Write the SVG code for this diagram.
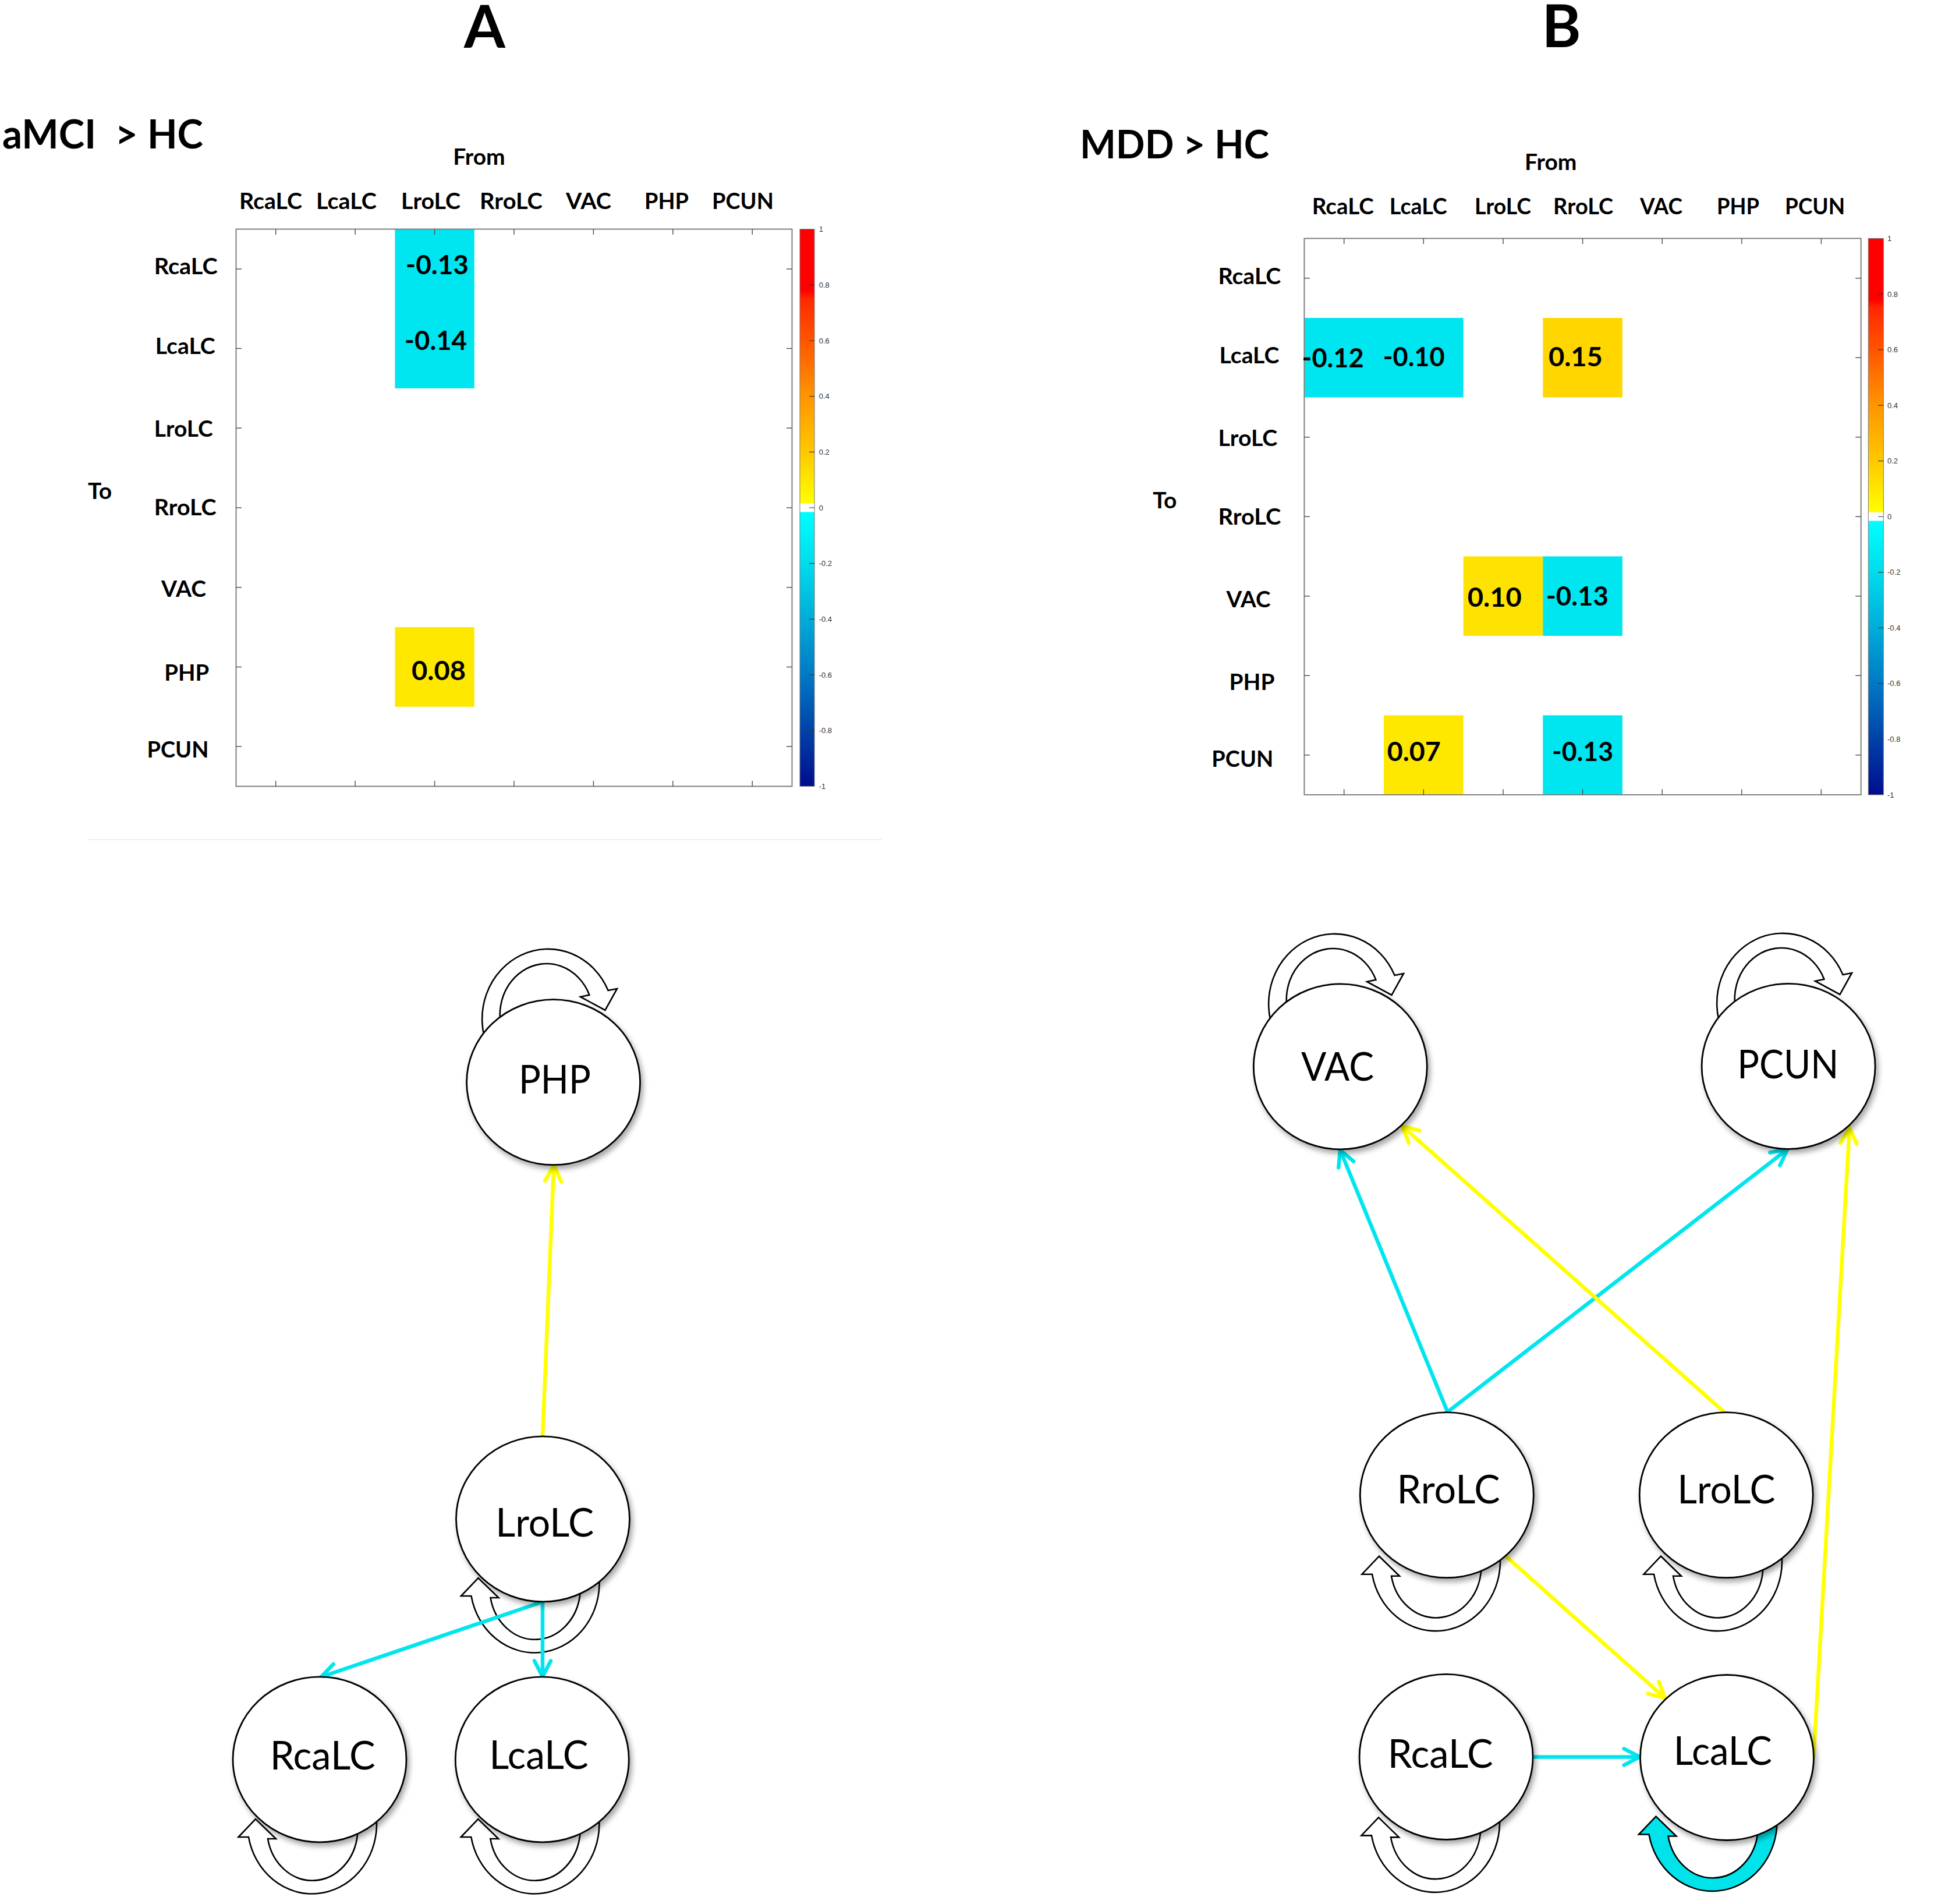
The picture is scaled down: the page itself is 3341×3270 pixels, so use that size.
<svg xmlns="http://www.w3.org/2000/svg" xmlns:xlink="http://www.w3.org/1999/xlink" width="3341" height="3270" viewBox="0 0 3341 3270">
<defs>
<style>
.b{font-family:Lato,"Liberation Sans",sans-serif;font-weight:700;fill:#000}
.lab{font-size:38px;text-anchor:middle}
.val{font-size:46px;text-anchor:middle}
.nl{font-family:Lato,"Liberation Sans",sans-serif;font-weight:400;font-size:68px;text-anchor:middle;fill:#000}
.cb{font-family:"Liberation Sans",Arial,sans-serif;font-size:13px;fill:#333}
.box{fill:none;stroke:#808080;stroke-width:2}
.tk{stroke:#555;stroke-width:1.5}
.cbt{stroke:#333;stroke-width:1.2}
.node ellipse{fill:#fff;stroke:#000;stroke-width:2.8;filter:url(#sh)}
.loop{stroke:#000;stroke-width:2.6;stroke-linejoin:miter}
.ec{fill:none;stroke:#00E5EE;stroke-width:6.5;marker-end:url(#ahC)}
.ey{fill:none;stroke:#FFFF00;stroke-width:6.5;marker-end:url(#ahY)}
</style>
<filter id="sh" x="-20%" y="-20%" width="150%" height="150%">
<feDropShadow dx="4" dy="6" stdDeviation="5" flood-color="#000" flood-opacity="0.35"/>
</filter>
<linearGradient id="gUp" x1="0" y1="0" x2="0" y2="1">
<stop offset="0" stop-color="#FF0000"/>
<stop offset="0.223" stop-color="#FF0000"/>
<stop offset="0.254" stop-color="#FF2800"/>
<stop offset="0.406" stop-color="#FF5500"/>
<stop offset="0.609" stop-color="#FF9500"/>
<stop offset="0.812" stop-color="#FFC800"/>
<stop offset="1" stop-color="#FFFF00"/>
</linearGradient>
<linearGradient id="gDn" x1="0" y1="0" x2="0" y2="1">
<stop offset="0" stop-color="#00FFFF"/>
<stop offset="0.188" stop-color="#00DCEC"/>
<stop offset="0.391" stop-color="#00ACD9"/>
<stop offset="0.594" stop-color="#0079C4"/>
<stop offset="0.797" stop-color="#0042A8"/>
<stop offset="1" stop-color="#000C8F"/>
</linearGradient>
<marker id="ahC" markerUnits="userSpaceOnUse" markerWidth="44" markerHeight="44" viewBox="-34 -22 44 44" refX="0" refY="0" orient="auto">
<path d="M-27,-14 L0,0 L-27,14" fill="none" stroke="#00E5EE" stroke-width="6.5" stroke-linecap="round" stroke-linejoin="round"/>
</marker>
<marker id="ahY" markerUnits="userSpaceOnUse" markerWidth="44" markerHeight="44" viewBox="-34 -22 44 44" refX="0" refY="0" orient="auto">
<path d="M-27,-14 L0,0 L-27,14" fill="none" stroke="#FFFF00" stroke-width="6.5" stroke-linecap="round" stroke-linejoin="round"/>
</marker>
<path id="loopTop" d="M -99,58 A 113 120 0 1 1 107.6,-40 L 123,-43 L 102.5,-6 L 60,-29 L 75.4,-32.3 A 80 88 0 1 0 -60,58 Z"/>
<path id="loopBot" d="M -110,11 A 111 120 0 0 0 110,-9 L 110,-42 L 77,-42 L 77,7 A 78 89 0 0 1 -77,14 L -63,14 L -98,-20 L -127.5,11 Z"/>
</defs>

<rect x="0" y="0" width="3341" height="3270" fill="#fff"/>

<!-- ================= Panel A matrix ================= -->
<g id="panelA-matrix">
<text class="b" x="832.5" y="82" font-size="102" text-anchor="middle">A</text>
<text class="b" x="4" y="255" font-size="68" style="white-space:pre" textLength="345" lengthAdjust="spacingAndGlyphs">aMCI  &gt; HC</text>
<text class="b" x="823" y="283" font-size="39" text-anchor="middle">From</text>
<text class="b" x="171.6" y="856.8" font-size="39" text-anchor="middle">To</text>
<g class="b lab">
<text x="465" y="359" textLength="108" lengthAdjust="spacingAndGlyphs">RcaLC</text>
<text x="595" y="359" textLength="104" lengthAdjust="spacingAndGlyphs">LcaLC</text>
<text x="740" y="359" textLength="102" lengthAdjust="spacingAndGlyphs">LroLC</text>
<text x="878" y="359" textLength="108" lengthAdjust="spacingAndGlyphs">RroLC</text>
<text x="1011" y="359" textLength="78" lengthAdjust="spacingAndGlyphs">VAC</text>
<text x="1145" y="359" textLength="76" lengthAdjust="spacingAndGlyphs">PHP</text>
<text x="1276" y="359" textLength="106" lengthAdjust="spacingAndGlyphs">PCUN</text>
<text x="319.2" y="470.7" textLength="109" lengthAdjust="spacingAndGlyphs">RcaLC</text>
<text x="318.2" y="607.6" textLength="103" lengthAdjust="spacingAndGlyphs">LcaLC</text>
<text x="315.2" y="750.1" textLength="101" lengthAdjust="spacingAndGlyphs">LroLC</text>
<text x="318.2" y="884.9" textLength="107" lengthAdjust="spacingAndGlyphs">RroLC</text>
<text x="315.6" y="1025.3" textLength="77" lengthAdjust="spacingAndGlyphs">VAC</text>
<text x="320.7" y="1168.5" textLength="77" lengthAdjust="spacingAndGlyphs">PHP</text>
<text x="305.4" y="1300.5" textLength="106" lengthAdjust="spacingAndGlyphs">PCUN</text>
</g>
<rect x="405.5" y="393.5" width="955" height="957" fill="#fff"/>
<rect x="678.4" y="393.5" width="136.4" height="273.4" fill="#00E6F0"/>
<rect x="678.4" y="1077.1" width="136.4" height="136.7" fill="#FFE800"/>
<rect class="box" x="405.5" y="393.5" width="955" height="957"/>
<g class="tk">
<path d="M473.7,393.5v9.5M610.1,393.5v9.5M746.6,393.5v9.5M883,393.5v9.5M1019.4,393.5v9.5M1155.9,393.5v9.5M1292.3,393.5v9.5"/>
<path d="M473.7,1350.5v-9.5M610.1,1350.5v-9.5M746.6,1350.5v-9.5M883,1350.5v-9.5M1019.4,1350.5v-9.5M1155.9,1350.5v-9.5M1292.3,1350.5v-9.5"/>
<path d="M405.5,461.9h9.5M405.5,598.6h9.5M405.5,735.3h9.5M405.5,872h9.5M405.5,1008.7h9.5M405.5,1145.4h9.5M405.5,1282.1h9.5"/>
<path d="M1360.5,461.9h-9.5M1360.5,598.6h-9.5M1360.5,735.3h-9.5M1360.5,872h-9.5M1360.5,1008.7h-9.5M1360.5,1145.4h-9.5M1360.5,1282.1h-9.5"/>
</g>
<g class="b val">
<text x="751" y="470.7" textLength="108" lengthAdjust="spacingAndGlyphs">-0.13</text>
<text x="748.5" y="601.3" textLength="107" lengthAdjust="spacingAndGlyphs">-0.14</text>
<text x="753.5" y="1167.8" textLength="93" lengthAdjust="spacingAndGlyphs">0.08</text>
</g>
<!-- colorbar A -->
<rect x="1374" y="393.6" width="25" height="471" fill="url(#gUp)"/>
<rect x="1374" y="879.4" width="25" height="471" fill="url(#gDn)"/>
<rect x="1374" y="393.6" width="25" height="956.8" fill="none" stroke="#777" stroke-width="1"/>
<g class="cbt">
<path d="M1390,489.3h9M1390,585h9M1390,680.6h9M1390,776.3h9M1390,872h9M1390,967.7h9M1390,1063.4h9M1390,1159h9M1390,1254.7h9"/>
</g>
<g class="cb">
<text x="1406.7" y="398.1">1</text>
<text x="1406.7" y="493.8">0.8</text>
<text x="1406.7" y="589.5">0.6</text>
<text x="1406.7" y="685.1">0.4</text>
<text x="1406.7" y="780.8">0.2</text>
<text x="1406.7" y="876.5">0</text>
<text x="1406.7" y="972.2">-0.2</text>
<text x="1406.7" y="1067.9">-0.4</text>
<text x="1406.7" y="1163.5">-0.6</text>
<text x="1406.7" y="1259.2">-0.8</text>
<text x="1406.7" y="1354.9">-1</text>
</g>
<line x1="150" y1="1442" x2="1515" y2="1442" stroke="#f0f0f0" stroke-width="2"/>
</g>

<!-- ================= Panel B matrix ================= -->
<g id="panelB-matrix">
<text class="b" x="2682" y="81" font-size="102" text-anchor="middle">B</text>
<text class="b" x="1855" y="271.7" font-size="67" textLength="325" lengthAdjust="spacingAndGlyphs">MDD &gt; HC</text>
<text class="b" x="2663.7" y="291.7" font-size="39" text-anchor="middle">From</text>
<text class="b" x="2000.8" y="873" font-size="39" text-anchor="middle">To</text>
<g class="b lab">
<text x="2306.8" y="368.3" textLength="106" lengthAdjust="spacingAndGlyphs">RcaLC</text>
<text x="2436.3" y="368.3" textLength="99" lengthAdjust="spacingAndGlyphs">LcaLC</text>
<text x="2581.5" y="368.3" textLength="97" lengthAdjust="spacingAndGlyphs">LroLC</text>
<text x="2719.6" y="368.3" textLength="103" lengthAdjust="spacingAndGlyphs">RroLC</text>
<text x="2853.5" y="368.3" textLength="73" lengthAdjust="spacingAndGlyphs">VAC</text>
<text x="2985.6" y="368.3" textLength="73" lengthAdjust="spacingAndGlyphs">PHP</text>
<text x="3117.6" y="368.3" textLength="103" lengthAdjust="spacingAndGlyphs">PCUN</text>
<text x="2146.4" y="488.3" textLength="108" lengthAdjust="spacingAndGlyphs">RcaLC</text>
<text x="2145.9" y="623.8" textLength="103" lengthAdjust="spacingAndGlyphs">LcaLC</text>
<text x="2143.4" y="766.3" textLength="102" lengthAdjust="spacingAndGlyphs">LroLC</text>
<text x="2146.4" y="901" textLength="108" lengthAdjust="spacingAndGlyphs">RroLC</text>
<text x="2144.5" y="1042.9" textLength="76" lengthAdjust="spacingAndGlyphs">VAC</text>
<text x="2150.5" y="1185.4" textLength="78" lengthAdjust="spacingAndGlyphs">PHP</text>
<text x="2134.3" y="1317.4" textLength="106" lengthAdjust="spacingAndGlyphs">PCUN</text>
</g>
<rect x="2240.4" y="409.5" width="956.3" height="955.5" fill="#fff"/>
<rect x="2240.4" y="546" width="273.3" height="136.5" fill="#00E6F0"/>
<rect x="2650.3" y="546" width="136.6" height="136.5" fill="#FFD600"/>
<rect x="2513.7" y="955.5" width="136.6" height="136.5" fill="#FFE300"/>
<rect x="2650.3" y="955.5" width="136.6" height="136.5" fill="#00E6F0"/>
<rect x="2377" y="1228.5" width="136.7" height="136.5" fill="#FFE800"/>
<rect x="2650.3" y="1228.5" width="136.6" height="136.5" fill="#00E6F0"/>
<rect class="box" x="2240.4" y="409.5" width="956.3" height="955.5"/>
<g class="tk">
<path d="M2308.7,409.5v9.5M2445.3,409.5v9.5M2582,409.5v9.5M2718.6,409.5v9.5M2855.2,409.5v9.5M2991.8,409.5v9.5M3128.4,409.5v9.5"/>
<path d="M2308.7,1365v-9.5M2445.3,1365v-9.5M2582,1365v-9.5M2718.6,1365v-9.5M2855.2,1365v-9.5M2991.8,1365v-9.5M3128.4,1365v-9.5"/>
<path d="M2240.4,477.8h9.5M2240.4,614.3h9.5M2240.4,750.8h9.5M2240.4,887.3h9.5M2240.4,1023.8h9.5M2240.4,1160.3h9.5M2240.4,1296.8h9.5"/>
<path d="M3196.7,477.8h-9.5M3196.7,614.3h-9.5M3196.7,750.8h-9.5M3196.7,887.3h-9.5M3196.7,1023.8h-9.5M3196.7,1160.3h-9.5M3196.7,1296.8h-9.5"/>
</g>
<g class="b val">
<text x="2289.6" y="630.8" textLength="106" lengthAdjust="spacingAndGlyphs">-0.12</text>
<text x="2428.7" y="628.7" textLength="106" lengthAdjust="spacingAndGlyphs">-0.10</text>
<text x="2706.4" y="628.7" textLength="93" lengthAdjust="spacingAndGlyphs">0.15</text>
<text x="2567.3" y="1041.5" textLength="93" lengthAdjust="spacingAndGlyphs">0.10</text>
<text x="2709.4" y="1040" textLength="107" lengthAdjust="spacingAndGlyphs">-0.13</text>
<text x="2428.7" y="1306.8" textLength="92" lengthAdjust="spacingAndGlyphs">0.07</text>
<text x="2718.6" y="1306.8" textLength="105" lengthAdjust="spacingAndGlyphs">-0.13</text>
</g>
<!-- colorbar B -->
<rect x="3209.3" y="409.5" width="26" height="470.5" fill="url(#gUp)"/>
<rect x="3209.3" y="894.5" width="26" height="470.5" fill="url(#gDn)"/>
<rect x="3209.3" y="409.5" width="26" height="955.5" fill="none" stroke="#777" stroke-width="1"/>
<g class="cbt">
<path d="M3226,505h9.3M3226,600.6h9.3M3226,696.2h9.3M3226,791.7h9.3M3226,887.25h9.3M3226,982.8h9.3M3226,1078.35h9.3M3226,1173.9h9.3M3226,1269.45h9.3"/>
</g>
<g class="cb">
<text x="3242" y="414">1</text>
<text x="3242" y="509.5">0.8</text>
<text x="3242" y="605.1">0.6</text>
<text x="3242" y="700.7">0.4</text>
<text x="3242" y="796.2">0.2</text>
<text x="3242" y="891.75">0</text>
<text x="3242" y="987.3">-0.2</text>
<text x="3242" y="1082.85">-0.4</text>
<text x="3242" y="1178.4">-0.6</text>
<text x="3242" y="1273.95">-0.8</text>
<text x="3242" y="1369.5">-1</text>
</g>
</g>

<!-- ================= Connectors ================= -->
<g id="connectors">
<!-- self loops -->
<use xlink:href="#loopTop" href="#loopTop" x="937" y="1741" class="loop" fill="#fff"/>
<use xlink:href="#loopBot" href="#loopBot" x="919.5" y="2730" class="loop" fill="#fff"/>
<use xlink:href="#loopBot" href="#loopBot" x="537" y="3144" class="loop" fill="#fff"/>
<use xlink:href="#loopBot" href="#loopBot" x="919.3" y="3144" class="loop" fill="#fff"/>
<use xlink:href="#loopTop" href="#loopTop" x="2288" y="1715" class="loop" fill="#fff"/>
<use xlink:href="#loopTop" href="#loopTop" x="3058" y="1714" class="loop" fill="#fff"/>
<use xlink:href="#loopBot" href="#loopBot" x="2467" y="2692.7" class="loop" fill="#fff"/>
<use xlink:href="#loopBot" href="#loopBot" x="2951" y="2692.7" class="loop" fill="#fff"/>
<use xlink:href="#loopBot" href="#loopBot" x="2466" y="3141.4" class="loop" fill="#fff"/>
<use xlink:href="#loopBot" href="#loopBot" x="2942.5" y="3139.5" class="loop" fill="#00E3EA"/>
<!-- A edges -->
<path class="ec" d="M932,2751 L551.6,2880"/>
<path class="ec" d="M932,2751 L932,2879.5"/>
<path class="ey" d="M932,2467 L951.3,2001.5"/>
<!-- B edges -->
<path class="ec" d="M2486.5,2425 L2302,1975"/>
<path class="ec" d="M2486.5,2425 L3070.2,1974"/>
<path class="ey" d="M2961.6,2425 L2408.9,1934.2"/>
<path class="ey" d="M2582.9,2669.3 L2860.2,2916.4"/>
<path class="ec" d="M2634.6,3017.4 L2816.7,3017.4"/>
<path class="ey" d="M3115.3,3019.1 L3177,1937"/>
</g>

<!-- ================= Nodes A ================= -->
<g id="nodeA-PHP" class="node"><ellipse cx="950.6" cy="1858.7" rx="149" ry="142"/><text class="nl" x="952.9" y="1878.2" textLength="124" lengthAdjust="spacingAndGlyphs">PHP</text></g>
<g id="nodeA-LroLC" class="node"><ellipse cx="932.5" cy="2608.8" rx="149" ry="142"/><text class="nl" x="935.7" y="2638.8" textLength="169" lengthAdjust="spacingAndGlyphs">LroLC</text></g>
<g id="nodeA-RcaLC" class="node"><ellipse cx="549" cy="3021.9" rx="149" ry="142"/><text class="nl" x="554.2" y="3038.5" textLength="181" lengthAdjust="spacingAndGlyphs">RcaLC</text></g>
<g id="nodeA-LcaLC" class="node"><ellipse cx="931.3" cy="3021.9" rx="149" ry="142"/><text class="nl" x="925.5" y="3037.6" textLength="170" lengthAdjust="spacingAndGlyphs">LcaLC</text></g>

<!-- ================= Nodes B ================= -->
<g id="nodeB-VAC" class="node"><ellipse cx="2302.3" cy="1831.9" rx="149" ry="142"/><text class="nl" x="2297.6" y="1856.3" textLength="125" lengthAdjust="spacingAndGlyphs">VAC</text></g>
<g id="nodeB-PCUN" class="node"><ellipse cx="3072.1" cy="1831.3" rx="149" ry="142"/><text class="nl" x="3071.3" y="1851.9" textLength="174" lengthAdjust="spacingAndGlyphs">PCUN</text></g>
<g id="nodeB-RroLC" class="node"><ellipse cx="2485.3" cy="2567.7" rx="149" ry="142"/><text class="nl" x="2488.1" y="2582.1" textLength="177" lengthAdjust="spacingAndGlyphs">RroLC</text></g>
<g id="nodeB-LroLC" class="node"><ellipse cx="2965.2" cy="2567.7" rx="149" ry="142"/><text class="nl" x="2965.3" y="2582.1" textLength="168" lengthAdjust="spacingAndGlyphs">LroLC</text></g>
<g id="nodeB-RcaLC" class="node"><ellipse cx="2484.1" cy="3017.4" rx="149" ry="142"/><text class="nl" x="2474.2" y="3035.8" textLength="181" lengthAdjust="spacingAndGlyphs">RcaLC</text></g>
<g id="nodeB-LcaLC" class="node"><ellipse cx="2966.5" cy="3018.5" rx="149" ry="142"/><text class="nl" x="2959.3" y="3030.7" textLength="169" lengthAdjust="spacingAndGlyphs">LcaLC</text></g>
</svg>
